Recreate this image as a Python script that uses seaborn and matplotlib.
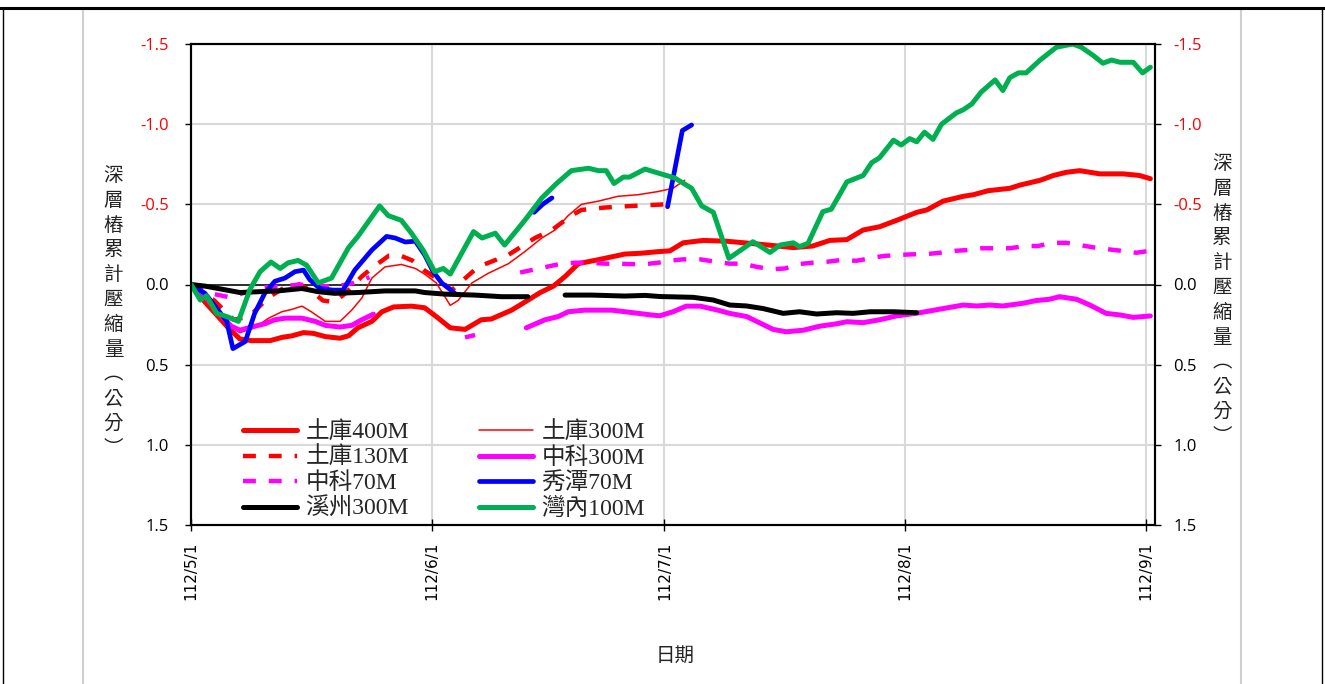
import numpy as np
import pandas as pd
import matplotlib
matplotlib.use('Agg')
import matplotlib.pyplot as plt
from matplotlib.lines import Line2D
from matplotlib.patches import Rectangle
import seaborn as sns

nan = np.nan

# --- 資料 (日數自 112/5/1 起算, 單位: 公分; NaN 代表缺測) ---
t400_day = [0, 1.8, 3.5, 4.8, 6.3, 7.8, 10.2, 11.7, 13, 14.5, 15.8, 17.3, 19.2, 20.3, 21.5, 23.3,
            24.6, 26.1, 28.4, 30.1, 31.6, 33.4, 35.3, 37.4, 38.7, 41.3, 43, 45, 46.7, 48.2, 49.9,
            52.5, 55.9, 58, 60.2, 61.7, 63.4, 66, 69, 72.4, 74.6, 77.6, 80.1, 82.3, 84.5, 86.6,
            88.7, 90.9, 93.5, 94.8, 96.9, 99.5, 100.8, 102.7, 105.5, 106.8, 109.4, 111.1, 112.8,
            114.5, 117.1, 120.1, 122.2, 123.6]
t400_val = [0, 0.11, 0.20, 0.27, 0.34, 0.35, 0.35, 0.33, 0.32, 0.30, 0.305, 0.325, 0.335, 0.32,
            0.27, 0.23, 0.17, 0.14, 0.135, 0.145, 0.20, 0.27, 0.28, 0.22, 0.215, 0.16, 0.11, 0.05,
            0.01, -0.05, -0.13, -0.155, -0.19, -0.195, -0.205, -0.21, -0.26, -0.275, -0.27,
            -0.255, -0.245, -0.23, -0.24, -0.275, -0.28, -0.34, -0.36, -0.40, -0.45, -0.465,
            -0.52, -0.55, -0.56, -0.585, -0.60, -0.62, -0.65, -0.68, -0.70, -0.71, -0.69, -0.69,
            -0.68, -0.66]

t300_day = [0, 2.1, 4.8, 6.3, 8.2, 10, 11.7, 13, 14.3, 15.5, 17.3, 19.2, 20.7, 22, 23.3, 25,
            27.1, 28.9, 30.1, 31.6, 33.4, 34.4, 36.2, 38.3, 40.9, 43, 45.2, 46.9, 48.6, 50.3,
            52.5, 55, 57.6, 60.2, 62.1, 63.6]
t300_val = [0, 0.10, 0.25, 0.30, 0.27, 0.21, 0.17, 0.155, 0.135, 0.17, 0.23, 0.23, 0.16, 0.085,
            -0.04, -0.11, -0.125, -0.10, -0.065, -0.01, 0.13, 0.10, -0.01, -0.07, -0.13, -0.205,
            -0.29, -0.34, -0.43, -0.50, -0.52, -0.55, -0.56, -0.58, -0.60, -0.65]

t130_day = [0, 3, 5.5, 7.5, 10, 12, 14, 15.5, 17, 18.5, 20, 22, 23.5, 25.5, 27, 28.5, 30,
            31.9, 33.6, 34.4, 37, 40.9, 44.3, 46.5, 49, 50.3, 53.3, 56.8, 61.1]
t130_val = [0, 0.10, 0.22, 0.20, 0.08, 0.02, 0.0, 0.04, 0.10, 0.11, 0.05, -0.05, -0.11, -0.18,
            -0.18, -0.15, -0.09, -0.03, 0.035, 0.0, -0.11, -0.185, -0.29, -0.34, -0.43, -0.465,
            -0.48, -0.49, -0.50]

z300_day = [0, 1.8, 4, 5.2, 6.3, 7.8, 9.5, 10.8, 12.1, 14.3, 16, 17.3, 19.2, 20.7, 22, 23.5, 33,
            43.2, 45.6, 47.3, 48.6, 50.7, 54.2, 56.8, 59.3, 60.4, 62.1, 63.8, 65.6, 67.9, 69.4,
            71.6, 73.3, 75, 76.7, 78.9, 81, 83.2, 84.5, 86.6, 88.7, 90.9, 93.9, 96.9, 99.5,
            101.2, 102.9, 104.6, 107.2, 108.9, 110.6, 111.9, 114.1, 115.8, 117.1, 117.9, 119.7,
            121.4, 123.6]
z300_val = [0, 0.075, 0.20, 0.26, 0.285, 0.265, 0.245, 0.22, 0.21, 0.21, 0.23, 0.255, 0.265,
            0.255, 0.22, 0.185, nan,
            0.27, 0.22, 0.20, 0.17, 0.16, 0.16, 0.175, 0.19, 0.195, 0.17, 0.135, 0.135, 0.16,
            0.18, 0.20, 0.24, 0.28, 0.295, 0.285, 0.26, 0.245, 0.232, 0.238, 0.22, 0.196, 0.176,
            0.15, 0.128, 0.134, 0.128, 0.134, 0.117, 0.10, 0.092, 0.076, 0.092, 0.128, 0.16,
            0.18, 0.19, 0.205, 0.196]

z70_day = [0, 3, 5, 7, 9, 12, 14, 16, 19, 21, 23, 29, 35.3, 36.6, 39, 42.4, 43.9, 45.8, 47.7,
           49.5, 51.1, 53.3, 55, 56.8, 58.5, 60.2, 62, 63.4, 65.6, 67.8, 69.4, 71.1, 72.9, 74.8,
           76.5, 78.4, 80.1, 82, 83.8, 85.7, 87.5, 89.2, 91.1, 92.8, 94.8, 96.5, 98.4, 100.1,
           101.8, 103.8, 105.5, 107.4, 109.1, 111.1, 112.8, 114.5, 116.2, 118.1, 119.9, 121.8,
           123.5]
z70_val = [0, 0.06, 0.08, 0.05, 0.02, 0.01, 0.0, 0.01, 0.01, -0.01, -0.045, nan, 0.33, 0.315,
           nan, -0.075, -0.09, -0.11, -0.13, -0.136, -0.136, -0.13, -0.13, -0.127, -0.127,
           -0.136, -0.15, -0.157, -0.157, -0.14, -0.13, -0.13, -0.11, -0.095, -0.10, -0.128,
           -0.136, -0.142, -0.153, -0.148, -0.163, -0.178, -0.184, -0.188, -0.19, -0.198, -0.21,
           -0.215, -0.226, -0.226, -0.226, -0.24, -0.24, -0.26, -0.26, -0.246, -0.232, -0.22,
           -0.21, -0.198, -0.21]

x70_day = [0, 1.8, 3.5, 4.6, 5.4, 7, 8.2, 9.5, 10.8, 12.1, 13.4, 14.5, 15.3, 16.6, 18.3, 19.6,
           21.1, 23.3, 25.2, 26.3, 27.6, 28.9, 30.1, 31.2, 32.3, 34, 38, 44.2, 45.3, 46.5, 54,
           61.4, 63.3, 64.5]
x70_val = [0, 0.055, 0.16, 0.23, 0.40, 0.355, 0.18, 0.055, -0.02, -0.04, -0.08, -0.09, -0.03,
           0.025, 0.035, 0.035, -0.09, -0.215, -0.30, -0.29, -0.265, -0.27, -0.185, -0.08,
           -0.01, 0.055, nan, -0.45, -0.50, -0.54, nan, -0.485, -0.96, -0.995]

x300_day = [0, 1.8, 3.5, 6.3, 8.7, 11.2, 14.3, 16.4, 18.5, 21.5, 25, 28.9, 30.1, 32.7, 36.6, 40,
            43.4, 46, 48.2, 51.6, 55.9, 58.5, 60.4, 64.7, 67.3, 69.4, 71.6, 73.7, 76.3, 78.4,
            80.6, 83.2, 85.3, 87.5, 90.5, 93.5]
x300_val = [0, 0.01, 0.025, 0.05, 0.045, 0.04, 0.025, 0.045, 0.055, 0.05, 0.04, 0.04, 0.05, 0.06,
            0.066, 0.076, 0.076, nan, 0.066, 0.066, 0.072, 0.068, 0.075, 0.08, 0.097, 0.128,
            0.134, 0.15, 0.18, 0.17, 0.184, 0.176, 0.18, 0.17, 0.17, 0.176]

w100_day = [0, 1.2, 2, 3.3, 4.6, 6.1, 7.6, 8.9, 10.3, 11.5, 12.5, 13.8, 14.9, 16.4, 18.1, 20.3,
            21.5, 24.3, 25.4, 27.1, 28.4, 29.9, 31.4, 32.5, 33.4, 36.4, 37.5, 39.2, 40.4, 43,
            45.2, 47.1, 49, 51.2, 52.5, 53.5, 54.5, 55.7, 56.5, 58.5, 60.2, 62.3, 64.5, 65.8,
            67.3, 69.3, 72.4, 74.6, 75.9, 77.6, 78.4, 79.5, 81.4, 82.5, 84.5, 86.6, 87.7, 88.7,
            90.5, 91.5, 92.6, 93.5, 94.5, 95.6, 96.7, 98.6, 99.5, 100.6, 101.8, 103.6, 104.6,
            105.5, 106.6, 107.6, 109.4, 111.5, 113.6, 114.7, 116.2, 117.5, 118.6, 119.7, 121.4,
            122.6, 123.6]
w100_val = [0, 0.097, 0.07, 0.18, 0.20, 0.23, 0.03, -0.08, -0.14, -0.10, -0.135, -0.15, -0.12,
            -0.01, -0.04, -0.23, -0.30, -0.49, -0.43, -0.40, -0.32, -0.215, -0.08, -0.10, -0.065,
            -0.33, -0.29, -0.32, -0.246, -0.40, -0.54, -0.63, -0.71, -0.725, -0.71, -0.71, -0.63,
            -0.67, -0.67, -0.72, -0.695, -0.665, -0.60, -0.49, -0.45, -0.163, -0.267, -0.20,
            -0.246, -0.26, -0.236, -0.257, -0.454, -0.47, -0.64, -0.68, -0.76, -0.79, -0.90,
            -0.87, -0.91, -0.89, -0.95, -0.905, -1.0, -1.07, -1.09, -1.126, -1.20, -1.276, -1.21,
            -1.29, -1.32, -1.32, -1.40, -1.48, -1.50, -1.48, -1.43, -1.38, -1.40, -1.386, -1.386,
            -1.32, -1.355]

month_ticks = [0, 31, 61, 92, 123]
month_labels = ['112/5/1', '112/6/1', '112/7/1', '112/8/1', '112/9/1']
y_ticks = [-1.5, -1.0, -0.5, 0.0, 0.5, 1.0, 1.5]

GREEN = '#00B050'
# (名稱, 日數, 數值, 顏色, 線寬, 線型)
series = [
    ('土庫400M', t400_day, t400_val, 'red', 3.6, '-'),
    ('土庫300M', t300_day, t300_val, 'red', 1.1, '-'),
    ('土庫130M', t130_day, t130_val, 'red', 3.2, (0, (2.9, 2.9))),
    ('中科300M', z300_day, z300_val, 'magenta', 3.6, '-'),
    ('中科70M', z70_day, z70_val, 'magenta', 3.2, (0, (2.9, 2.9))),
    ('秀潭70M', x70_day, x70_val, 'blue', 3.4, '-'),
    ('溪州300M', x300_day, x300_val, 'black', 3.6, '-'),
    ('灣內100M', w100_day, w100_val, GREEN, 3.6, '-'),
]


def to_frame(day, val):
    # 以 NaN 斷開線段
    df = pd.DataFrame({'day': day, 'val': val})
    df['seg'] = df['val'].isna().cumsum()
    return df.dropna()


sns.set_theme(style='ticks')
plt.rcParams['font.family'] = ['Open Sans', 'Noto Sans CJK TC', 'DejaVu Sans']

fig, ax = plt.subplots(figsize=(13.25, 6.84), dpi=100)
fig.subplots_adjust(left=191 / 1325, right=1155 / 1325, top=1 - 44 / 684, bottom=1 - 525 / 684)

ax.set_axisbelow(True)
ax.grid(True, color='#d9d9d9', lw=1.5)
ax.axhline(0, color='black', lw=1.1, zorder=1.5)

for name, day, val, color, lw, ls in series:
    df = to_frame(day, val)
    sns.lineplot(data=df, x='day', y='val', units='seg', estimator=None, sort=False,
                 color=color, lw=lw, linestyle=ls, legend=False, ax=ax)

ax.set_xlim(0, 124.2)
ax.set_ylim(1.5, -1.5)
ax.set_xticks(month_ticks)
ax.set_xticklabels(month_labels, rotation=90, family='DejaVu Sans', fontsize=11, color='black')
ax.set_yticks(y_ticks)
ax.set_yticklabels([f'{v:.1f}' for v in y_ticks], fontsize=12, color='black')
for lab, v in zip(ax.get_yticklabels(), y_ticks):
    if v < 0:
        lab.set_color('red')
ax.set_xlabel('')
ax.set_ylabel('')
ax.tick_params(axis='x', direction='inout', length=8, width=1, pad=8, color='black')
ax.tick_params(axis='y', direction='out', length=4, width=1, pad=12, color='black')
for sp in ax.spines.values():
    sp.set_color('black')
    sp.set_linewidth(1.5)

ax2 = ax.twinx()
ax2.set_ylim(1.5, -1.5)
ax2.set_yticks(y_ticks)
ax2.set_yticklabels([f'{v:.1f}' for v in y_ticks], fontsize=12, color='black')
for lab, v in zip(ax2.get_yticklabels(), y_ticks):
    if v < 0:
        lab.set_color('red')
ax2.tick_params(axis='y', direction='out', length=4, width=1, pad=9, color='black')
for sp in ax2.spines.values():
    sp.set_color('black')
    sp.set_linewidth(1.5)

# 圖例
handles = [Line2D([], [], color=c, lw=lw, linestyle=ls) for _, _, _, c, lw, ls in series]
labels = [s[0] for s in series]
order = [0, 2, 4, 6, 1, 3, 5, 7]
ax.legend([handles[i] for i in order], [labels[i] for i in order], ncol=2,
          loc='upper left', bbox_to_anchor=(0.054, 0.215), frameon=False,
          borderpad=0, borderaxespad=0, handlelength=2.3, handletextpad=0.35,
          columnspacing=2.95, labelspacing=0.15,
          prop={'family': ['Liberation Serif', 'Noto Sans CJK TC'], 'size': 17})

# 軸標題 (直書)
ylab = '\n'.join(list('深層樁累計壓縮量︵公分︶'))
fig.text(113.5 / 1325, 1 - 312 / 684, ylab, ha='center', va='center', fontsize=14,
         linespacing=1.24, multialignment='center', family='Noto Sans CJK TC', color='#222222')
fig.text(1222 / 1325, 1 - 300 / 684, ylab, ha='center', va='center', fontsize=14,
         linespacing=1.24, multialignment='center', family='Noto Sans CJK TC', color='#222222')
fig.text(675 / 1325, 1 - 655 / 684, '日期', ha='center', va='center', fontsize=14,
         family='Noto Sans CJK TC', color='#222222')

# 外框
fig.add_artist(Rectangle((83 / 1325, -0.1), (1241 - 83) / 1325, 1.1 - 9.5 / 684,
                         transform=fig.transFigure, fill=False, ec='#d0d0d0', lw=1.5))
fig.add_artist(Line2D([0, 1], [1 - 7.5 / 684] * 2, transform=fig.transFigure, color='black', lw=2.2))
fig.add_artist(Line2D([2.5 / 1325] * 2, [0, 1 - 7.5 / 684], transform=fig.transFigure, color='black', lw=1))
fig.add_artist(Line2D([1321.5 / 1325] * 2, [0, 1 - 7.5 / 684], transform=fig.transFigure, color='black', lw=1))

fig.savefig('out.png', dpi=100)
